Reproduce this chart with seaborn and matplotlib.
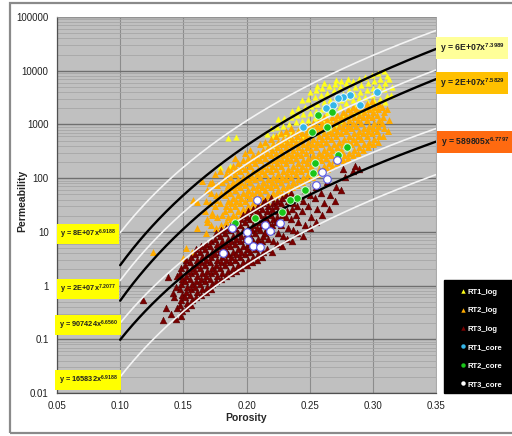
import numpy as np
import matplotlib
matplotlib.use("Agg")
import matplotlib.pyplot as plt
import seaborn as sns
from matplotlib.lines import Line2D
from matplotlib.patches import Rectangle
from matplotlib.ticker import FixedLocator, FixedFormatter, LogLocator, NullFormatter

# ---------------- data ----------------
x_ticks = [0.05, 0.10, 0.15, 0.20, 0.25, 0.30, 0.35]
x_tick_labels = ["0.05", "0.10", "0.15", "0.20", "0.25", "0.30", "0.35"]
y_ticks = [0.01, 0.1, 1, 10, 100, 1000, 10000, 100000]
y_tick_labels = ["0.01", "0.1", "1", "10", "100", "1000", "10000", "100000"]

# trend lines  y = a * x^b
trend_a = [8e7, 6e7, 2e7, 2e7, 907424, 589805, 165832]
trend_b = [6.9188, 7.3989, 7.2077, 7.5829, 6.6560, 6.7797, 6.9188]
trend_color = ["white", "black", "white", "black", "white", "black", "white"]
trend_x_start = 0.10
trend_x_end = 0.35

right_labels = ["6E+07", "2E+07", "589805"]
right_exps = ["7.3989", "7.5829", "6.7797"]
left_labels = ["8E+07", "2E+07", "907424", "165832"]
left_exps = ["6.9188", "7.2077", "6.6560", "6.9188"]

series_names = ["RT1_log", "RT2_log", "RT3_log", "RT1_core", "RT2_core", "RT3_core"]

rt1_log_por = [
    0.179, 0.187, 0.185, 0.192,
    0.215, 0.216,
    0.220, 0.221, 0.219,
    0.225, 0.226, 0.224, 0.225,
    0.230, 0.231, 0.229, 0.230,
    0.235, 0.236, 0.234, 0.235, 0.236,
    0.240, 0.241, 0.239, 0.240, 0.241,
    0.245, 0.246, 0.244, 0.245, 0.246, 0.244,
    0.250, 0.251, 0.249, 0.250, 0.251, 0.249, 0.250,
    0.255, 0.256, 0.254, 0.255, 0.256, 0.254, 0.255, 0.256,
    0.260, 0.261, 0.259, 0.260, 0.261, 0.259, 0.260, 0.261,
    0.265, 0.266, 0.264, 0.265, 0.266, 0.264, 0.265,
    0.270, 0.271, 0.269, 0.270, 0.271, 0.269, 0.270, 0.271,
    0.275, 0.276, 0.274, 0.275, 0.276, 0.274, 0.275,
    0.280, 0.281, 0.279, 0.280, 0.281, 0.279, 0.280,
    0.285, 0.286, 0.284, 0.285, 0.286, 0.284,
    0.290, 0.291, 0.289, 0.290, 0.291, 0.289,
    0.295, 0.296, 0.294, 0.295, 0.296, 0.294,
    0.300, 0.301, 0.299, 0.300, 0.301, 0.299,
    0.305, 0.306, 0.304, 0.305, 0.306, 0.304,
    0.310, 0.311, 0.309, 0.310, 0.311, 0.309,
    0.314, 0.315, 0.313,
]
rt1_log_perm = [
    160, 165, 560, 580,
    450, 650,
    420, 600, 850,
    480, 650, 900, 1250,
    520, 700, 950, 1300,
    550, 750, 1000, 1400, 1800,
    580, 800, 1100, 1500, 2000,
    620, 850, 1150, 1550, 2100, 2900,
    650, 900, 1200, 1650, 2200, 3000, 4000,
    700, 950, 1300, 1750, 2400, 3200, 4300, 5300,
    800, 1100, 1450, 1950, 2600, 3500, 4700, 6000,
    900, 1200, 1600, 2150, 2900, 3900, 5200,
    1000, 1350, 1800, 2400, 3200, 4300, 5700, 6800,
    1150, 1550, 2100, 2800, 3700, 5000, 6500,
    1400, 1900, 2500, 3300, 4400, 5800, 7000,
    1600, 2100, 2800, 3700, 4900, 6300,
    1800, 2400, 3100, 4100, 5400, 7000,
    1900, 2500, 3300, 4400, 5800, 7500,
    2000, 2700, 3600, 4800, 6300, 8200,
    2300, 3000, 4000, 5300, 7000, 9000,
    2600, 3400, 4500, 6000, 8000, 10000,
    3500, 5000, 7000,
]

rt2_log_por = [
    0.126, 0.150, 0.152, 0.157, 0.161, 0.161, 0.169, 0.173, 0.171, 0.165, 0.158, 0.176,
    0.168, 0.169, 0.167, 0.168, 0.169,
    0.172, 0.173, 0.171, 0.172, 0.173,
    0.176, 0.177, 0.175, 0.176, 0.177, 0.175,
    0.180, 0.181, 0.179, 0.180, 0.181, 0.179,
    0.184, 0.185, 0.183, 0.184, 0.185, 0.183, 0.184, 0.185, 0.183, 0.184, 0.185,
    0.188, 0.189, 0.187, 0.188, 0.189, 0.187, 0.188, 0.189, 0.187, 0.188, 0.189,
    0.192, 0.193, 0.191, 0.192, 0.193, 0.191, 0.192, 0.193, 0.191, 0.192, 0.193, 0.191,
    0.196, 0.197, 0.195, 0.196, 0.197, 0.195, 0.196, 0.197, 0.195, 0.196, 0.197,
    0.200, 0.201, 0.199, 0.200, 0.201, 0.199, 0.200, 0.201, 0.199, 0.200, 0.201, 0.199,
    0.204, 0.205, 0.203, 0.204, 0.205, 0.203, 0.204, 0.205, 0.203, 0.204, 0.205, 0.203,
    0.208, 0.209, 0.207, 0.208, 0.209, 0.207, 0.208, 0.209, 0.207, 0.208, 0.209,
    0.212, 0.213, 0.211, 0.212, 0.213, 0.211, 0.212, 0.213, 0.211, 0.212, 0.213, 0.211,
    0.216, 0.217, 0.215, 0.216, 0.217, 0.215, 0.216, 0.217, 0.215, 0.216, 0.217, 0.215,
    0.220, 0.221, 0.219, 0.220, 0.221, 0.219, 0.220, 0.221, 0.219, 0.220, 0.221, 0.219,
    0.224, 0.225, 0.223, 0.224, 0.225, 0.223, 0.224, 0.225, 0.223, 0.224, 0.225, 0.223,
    0.228, 0.229, 0.227, 0.228, 0.229, 0.227, 0.228, 0.229, 0.227, 0.228, 0.229, 0.227,
    0.232, 0.233, 0.231, 0.232, 0.233, 0.231, 0.232, 0.233, 0.231, 0.232, 0.233, 0.231,
    0.236, 0.237, 0.235, 0.236, 0.237, 0.235, 0.236, 0.237, 0.235, 0.236, 0.237, 0.235,
    0.240, 0.241, 0.239, 0.240, 0.241, 0.239, 0.240, 0.241, 0.239, 0.240, 0.241,
    0.244, 0.245, 0.243, 0.244, 0.245, 0.243, 0.244, 0.245, 0.243, 0.244, 0.245,
    0.248, 0.249, 0.247, 0.248, 0.249, 0.247, 0.248, 0.249, 0.247, 0.248, 0.249,
    0.252, 0.253, 0.251, 0.252, 0.253, 0.251, 0.252, 0.253, 0.251, 0.252, 0.253,
    0.256, 0.257, 0.255, 0.256, 0.257, 0.255, 0.256, 0.257, 0.255, 0.256, 0.257,
    0.260, 0.261, 0.259, 0.260, 0.261, 0.259, 0.260, 0.261, 0.259, 0.260, 0.261,
    0.264, 0.265, 0.263, 0.264, 0.265, 0.263, 0.264, 0.265, 0.263, 0.264,
    0.268, 0.269, 0.267, 0.268, 0.269, 0.267, 0.268, 0.269, 0.267, 0.268,
    0.272, 0.273, 0.271, 0.272, 0.273, 0.271, 0.272, 0.273, 0.271, 0.272,
    0.276, 0.277, 0.275, 0.276, 0.277, 0.275, 0.276, 0.277, 0.275, 0.276,
    0.280, 0.281, 0.279, 0.280, 0.281, 0.279, 0.280, 0.281, 0.279, 0.280,
    0.284, 0.285, 0.283, 0.284, 0.285, 0.283, 0.284, 0.285, 0.283, 0.284,
    0.288, 0.289, 0.287, 0.288, 0.289, 0.287, 0.288, 0.289, 0.287,
    0.292, 0.293, 0.291, 0.292, 0.293, 0.291, 0.292, 0.293, 0.291,
    0.296, 0.297, 0.295, 0.296, 0.297, 0.295, 0.296, 0.297, 0.295,
    0.300, 0.301, 0.299, 0.300, 0.301, 0.299, 0.300, 0.301, 0.299,
    0.304, 0.305, 0.303, 0.304, 0.305, 0.303, 0.304, 0.305,
    0.308, 0.309, 0.307, 0.308, 0.309, 0.307,
    0.312, 0.313, 0.311,
]
rt2_log_perm = [
    4.2, 3.2, 5.0, 4.3, 11.7, 36, 17, 22, 81, 90, 39, 40,
    9.5, 15, 24, 38, 60,
    13.5, 21, 34, 54, 85,
    12, 19, 30, 48, 75, 120,
    13.5, 21, 34, 54, 85, 135,
    15, 19, 24, 30, 38, 48, 60, 75, 95, 120, 150,
    17, 21, 27, 34, 43, 54, 67, 85, 107, 135, 170,
    19, 24, 30, 38, 48, 60, 75, 95, 120, 150, 190, 240,
    21, 27, 34, 43, 54, 67, 85, 107, 135, 170, 215,
    24, 30, 38, 48, 60, 75, 95, 120, 150, 190, 240, 300,
    27, 34, 43, 54, 67, 85, 107, 135, 170, 215, 270, 340,
    30, 38, 48, 60, 75, 95, 120, 150, 190, 240, 300,
    34, 43, 54, 67, 85, 107, 135, 170, 215, 270, 340, 430,
    38, 48, 60, 75, 95, 120, 150, 190, 240, 300, 380, 480,
    43, 54, 67, 85, 107, 135, 170, 215, 270, 340, 430, 540,
    48, 60, 75, 95, 120, 150, 190, 240, 300, 380, 480, 600,
    54, 67, 85, 107, 135, 170, 215, 270, 340, 430, 540, 680,
    60, 75, 95, 120, 150, 190, 240, 300, 380, 480, 600, 750,
    67, 85, 107, 135, 170, 215, 270, 340, 430, 540, 680, 850,
    75, 95, 120, 150, 190, 240, 300, 380, 480, 600, 750,
    85, 107, 135, 170, 215, 270, 340, 430, 540, 680, 850,
    95, 120, 150, 190, 240, 300, 380, 480, 600, 750, 950,
    107, 135, 170, 215, 270, 340, 430, 540, 680, 850, 1070,
    120, 150, 190, 240, 300, 380, 480, 600, 750, 950, 1200,
    135, 170, 215, 270, 340, 430, 540, 680, 850, 1070, 1350,
    150, 190, 240, 300, 380, 480, 600, 750, 950, 1200,
    170, 215, 270, 340, 430, 540, 680, 850, 1070, 1350,
    190, 240, 300, 380, 480, 600, 750, 950, 1200, 1500,
    215, 270, 340, 430, 540, 680, 850, 1070, 1350, 1700,
    240, 300, 380, 480, 600, 750, 950, 1200, 1500, 1900,
    270, 340, 430, 540, 680, 850, 1070, 1350, 1700, 2150,
    300, 380, 480, 600, 750, 950, 1200, 1500, 1900,
    340, 430, 540, 680, 850, 1070, 1350, 1700, 2150,
    380, 480, 600, 750, 950, 1200, 1500, 1900, 2400,
    430, 540, 680, 850, 1070, 1350, 1700, 2150, 2700,
    480, 600, 750, 950, 1200, 1500, 1900, 2400,
    600, 850, 1070, 1350, 1700, 2150,
    750, 1200, 1900,
]

rt3_log_por = [
    0.118, 0.134, 0.138, 0.142, 0.136, 0.140,
    0.144, 0.145, 0.143, 0.144, 0.145,
    0.148, 0.149, 0.147, 0.148, 0.149, 0.147, 0.148, 0.149, 0.147, 0.148,
    0.152, 0.153, 0.151, 0.152, 0.153, 0.151, 0.152, 0.153, 0.151, 0.152,
    0.156, 0.157, 0.155, 0.156, 0.157, 0.155, 0.156, 0.157, 0.155, 0.156,
    0.160, 0.161, 0.159, 0.160, 0.161, 0.159, 0.160, 0.161, 0.159, 0.160,
    0.164, 0.165, 0.163, 0.164, 0.165, 0.163, 0.164, 0.165, 0.163, 0.164,
    0.168, 0.169, 0.167, 0.168, 0.169, 0.167, 0.168, 0.169, 0.167, 0.168,
    0.172, 0.173, 0.171, 0.172, 0.173, 0.171, 0.172, 0.173, 0.171, 0.172,
    0.176, 0.177, 0.175, 0.176, 0.177, 0.175, 0.176, 0.177, 0.175, 0.176,
    0.180, 0.181, 0.179, 0.180, 0.181, 0.179, 0.180, 0.181, 0.179, 0.180,
    0.184, 0.185, 0.183, 0.184, 0.185, 0.183, 0.184, 0.185, 0.183, 0.184,
    0.188, 0.189, 0.187, 0.188, 0.189, 0.187, 0.188, 0.189, 0.187, 0.188,
    0.192, 0.193, 0.191, 0.192, 0.193, 0.191, 0.192, 0.193, 0.191, 0.192,
    0.196, 0.197, 0.195, 0.196, 0.197, 0.195, 0.196, 0.197, 0.195, 0.196, 0.197,
    0.200, 0.201, 0.199, 0.200, 0.201, 0.199, 0.200, 0.201, 0.199, 0.200, 0.201,
    0.204, 0.205, 0.203, 0.204, 0.205, 0.203, 0.204, 0.205, 0.203, 0.204, 0.205,
    0.208, 0.209, 0.207, 0.208, 0.209, 0.207, 0.208, 0.209, 0.207, 0.208, 0.209,
    0.212, 0.213, 0.211, 0.212, 0.213, 0.211, 0.212, 0.213, 0.211, 0.212, 0.213,
    0.216, 0.217, 0.215, 0.216, 0.217, 0.215, 0.216, 0.217, 0.215,
    0.220, 0.221, 0.219, 0.220, 0.221, 0.219, 0.220, 0.221, 0.219,
    0.224, 0.225, 0.223, 0.224, 0.225, 0.223, 0.224,
    0.228, 0.229, 0.227, 0.228, 0.229, 0.227, 0.228,
    0.232, 0.233, 0.231, 0.232, 0.233, 0.231,
    0.236, 0.237, 0.235, 0.236, 0.237, 0.235,
    0.240, 0.241, 0.239, 0.240, 0.241,
    0.245, 0.246, 0.244, 0.245, 0.246,
    0.250, 0.251, 0.249, 0.250,
    0.255, 0.256, 0.254, 0.255,
    0.260, 0.261, 0.259,
    0.265, 0.266, 0.264,
    0.270, 0.271,
    0.275, 0.278, 0.276,
    0.284, 0.286, 0.289,
]
rt3_log_perm = [
    0.54, 0.23, 1.45, 0.72, 0.38, 0.30,
    0.24, 0.38, 0.60, 0.95, 1.5,
    0.27, 0.34, 0.43, 0.54, 0.68, 0.85, 1.07, 1.35, 1.7, 2.15,
    0.38, 0.48, 0.60, 0.75, 0.95, 1.2, 1.5, 1.9, 2.4, 3.0,
    0.43, 0.54, 0.68, 0.85, 1.07, 1.35, 1.7, 2.15, 2.7, 3.4,
    0.60, 0.75, 0.95, 1.2, 1.5, 1.9, 2.4, 3.0, 3.8, 4.8,
    0.68, 0.85, 1.07, 1.35, 1.7, 2.15, 2.7, 3.4, 4.3, 5.4,
    0.75, 0.95, 1.2, 1.5, 1.9, 2.4, 3.0, 3.8, 4.8, 6.0,
    0.85, 1.07, 1.35, 1.7, 2.15, 2.7, 3.4, 4.3, 5.4, 6.8,
    1.2, 1.5, 1.9, 2.4, 3.0, 3.8, 4.8, 6.0, 7.5, 9.5,
    1.35, 1.7, 2.15, 2.7, 3.4, 4.3, 5.4, 6.8, 8.5, 10.7,
    1.5, 1.9, 2.4, 3.0, 3.8, 4.8, 6.0, 7.5, 9.5, 12,
    1.7, 2.15, 2.7, 3.4, 4.3, 5.4, 6.8, 8.5, 10.7, 13.5,
    1.9, 2.4, 3.0, 3.8, 4.8, 6.0, 7.5, 9.5, 12, 15,
    2.15, 2.7, 3.4, 4.3, 5.4, 6.8, 8.5, 10.7, 13.5, 17, 21,
    2.4, 3.0, 3.8, 4.8, 6.0, 7.5, 9.5, 12, 15, 19, 24,
    2.7, 3.4, 4.3, 5.4, 6.8, 8.5, 10.7, 13.5, 17, 21, 27,
    3.0, 3.8, 4.8, 6.0, 7.5, 9.5, 12, 15, 19, 24, 30,
    3.4, 4.3, 5.4, 6.8, 8.5, 10.7, 13.5, 17, 21, 27, 34,
    4.8, 7.5, 9.5, 12, 15, 19, 24, 30, 38,
    4.3, 6.8, 10.7, 13.5, 17, 21, 27, 34, 43,
    6.0, 9.5, 15, 19, 24, 30, 38,
    5.4, 8.5, 13.5, 21, 27, 34, 43,
    7.5, 12, 19, 24, 38, 48,
    6.8, 10.7, 17, 27, 34, 54,
    9.5, 15, 21, 30, 43,
    8.5, 13.5, 24, 38, 60,
    12, 19, 30, 48,
    15, 27, 43, 68,
    21, 34, 54,
    27, 48, 85,
    38, 68,
    60, 107, 150,
    135, 170, 150,
]

rt1_core_por = [0.3033, 0.2819, 0.2764, 0.2724, 0.2685, 0.2629, 0.2899, 0.2447]
rt1_core_perm = [4010, 3520, 3240, 3100, 2300, 2020, 2300, 895]

rt2_core_por = [0.2566, 0.2677, 0.2637, 0.2519, 0.2796, 0.2724, 0.2542, 0.2526,
                0.2463, 0.2400, 0.2344, 0.2281, 0.2067, 0.1909]
rt2_core_perm = [1496, 1700, 895, 721, 379, 269, 191, 124,
                 60, 43, 39, 23, 18, 14.6]

rt3_core_por = [0.2716, 0.2598, 0.2637, 0.2550, 0.2083, 0.2265, 0.2146, 0.2186,
                0.1885, 0.2012, 0.2051, 0.2107, 0.2004, 0.1814]
rt3_core_perm = [217, 130, 96, 74, 39, 14.6, 13.4, 10.4,
                 11.8, 7.0, 5.4, 5.2, 9.9, 4.0]

# ---------------- figure ----------------
sns.set_style("white")
plt.rcParams["font.family"] = ["Liberation Sans", "DejaVu Sans"]

W, H = 512, 436
fig = plt.figure(figsize=(W / 100, H / 100), dpi=100)
fig.patch.set_facecolor("white")
ax = fig.add_axes([57 / W, 43 / H, 379 / W, 376 / H])
ax.set_facecolor("#c0c0c0")

ax.set_yscale("log")
ax.set_xlim(0.05, 0.35)
ax.set_ylim(0.01, 100000)

# grid
ax.set_axisbelow(True)
ax.yaxis.set_minor_locator(LogLocator(base=10, subs=np.arange(2, 10)))
ax.yaxis.set_minor_formatter(NullFormatter())
ax.grid(which="minor", axis="y", color="#a6a6a6", lw=0.6)
ax.grid(which="major", axis="y", color="#6f6f6f", lw=1.0)
ax.grid(which="major", axis="x", color="#8c8c8c", lw=0.8)

ax.xaxis.set_major_locator(FixedLocator(x_ticks))
ax.xaxis.set_major_formatter(FixedFormatter(x_tick_labels))
ax.yaxis.set_major_locator(FixedLocator(y_ticks))
ax.yaxis.set_major_formatter(FixedFormatter(y_tick_labels))
ax.tick_params(axis="both", which="major", direction="out", length=4, width=0.8,
               color="#404040", labelsize=7, pad=2, labelcolor="#202020")
ax.tick_params(axis="both", which="minor", length=0)
for side in ["left", "bottom"]:
    ax.spines[side].set_color("#505050")
    ax.spines[side].set_linewidth(0.9)
for side in ["top", "right"]:
    ax.spines[side].set_color("#9a9a9a")
    ax.spines[side].set_linewidth(0.6)

# log series
sns.scatterplot(x=rt1_log_por, y=rt1_log_perm, ax=ax, marker="^", s=20,
                color="#ffff1a", linewidth=0, zorder=3)
sns.scatterplot(x=rt2_log_por, y=rt2_log_perm, ax=ax, marker="^", s=25,
                color="#ffab00", linewidth=0, zorder=3)
sns.scatterplot(x=rt3_log_por, y=rt3_log_perm, ax=ax, marker="^", s=24,
                color="#7a0000", edgecolor="#4d0000", linewidth=0.3, zorder=3)

# trend lines
xs = np.linspace(trend_x_start, trend_x_end, 200)
for a, b, c in zip(trend_a, trend_b, trend_color):
    ax.plot(xs, a * xs ** b, color=c if c == "black" else "#f4f4f4",
            lw=1.7 if c == "black" else 1.2, zorder=4)

# core series
sns.scatterplot(x=rt1_core_por, y=rt1_core_perm, ax=ax, marker="o", s=30,
                color="#35b6e8", edgecolor="#e8f8ff", linewidth=0.7, zorder=5)
sns.scatterplot(x=rt2_core_por, y=rt2_core_perm, ax=ax, marker="o", s=30,
                color="#19c519", edgecolor="#d8ffd8", linewidth=0.7, zorder=5)
sns.scatterplot(x=rt3_core_por, y=rt3_core_perm, ax=ax, marker="o", s=30,
                color="white", edgecolor="#5a5ae6", linewidth=0.8, zorder=5)

ax.set_xlabel("Porosity", fontsize=7.5, fontweight="bold", labelpad=1)
ax.set_ylabel("Permeability", fontsize=7.5, fontweight="bold")
ax.yaxis.set_label_coords(-0.079, 0.51)

# legend (black panel at the lower right)
fig.patches.append(Rectangle((444 / W, 1 - 393 / H), 80 / W, 113 / H,
                             transform=fig.transFigure, fc="black", ec="black", zorder=1))
leg_colors = ["#ffff1a", "#ffab00", "#7a0000", "#35b6e8", "#19c519", "white"]
leg_markers = ["^", "^", "^", "o", "o", "o"]
handles = [Line2D([], [], ls="none", marker=m, color=c, markersize=3.2,
                  markeredgewidth=0)
           for m, c in zip(leg_markers, leg_colors)]
leg = fig.legend(handles, series_names, loc="upper left",
                 bbox_to_anchor=(453 / W, 1 - 280 / H),
                 frameon=False, labelcolor="white",
                 prop={"size": 5.5, "weight": "bold"},
                 handlelength=0.5, handletextpad=0.25, labelspacing=1.45,
                 borderpad=1.1, borderaxespad=0)
leg.set_zorder(3)

# equation labels
def eq_text(xp, yp, coef, exp, fc, size):
    fig.text(xp / W, 1 - yp / H, "y = " + coef + "x$^{\\mathregular{" + exp + "}}$",
             ha="center", va="center", fontsize=size, fontweight="bold", color="#202020",
             bbox=dict(boxstyle="square,pad=0.45", fc=fc, ec="none"))

right_pos = [(472, 48, "#ffff99"), (472, 83, "#ffc000"), (475, 142, "#ff6a10")]
for (xp, yp, fc), c, e in zip(right_pos, right_labels, right_exps):
    eq_text(xp, yp, c, e, fc, 6.2)
left_pos = [(88, 234), (88, 289), (88, 325), (88, 380)]
for (xp, yp), c, e in zip(left_pos, left_labels, left_exps):
    eq_text(xp, yp, c, e, "#ffff00", 5.3)

# outer frame
fig.patches.append(Rectangle((10 / W, 3 / H), 520 / W, 430 / H, transform=fig.transFigure,
                             fill=False, ec="#8a8a8a", lw=1.6))

fig.savefig("out.png", dpi=100)
